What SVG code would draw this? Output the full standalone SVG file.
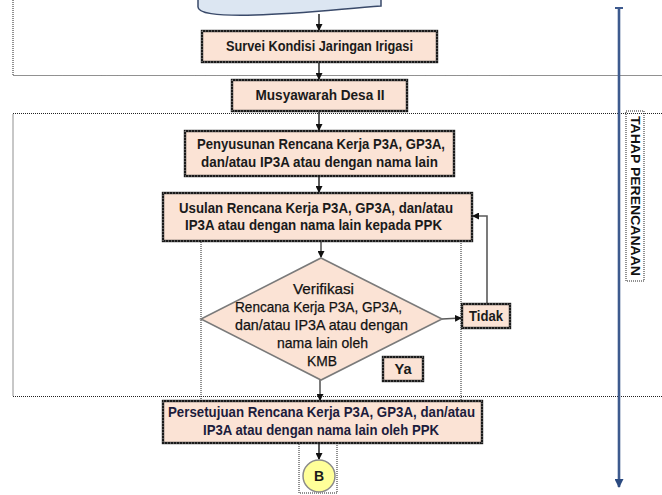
<svg xmlns="http://www.w3.org/2000/svg" width="662" height="495" viewBox="0 0 662 495">
<style>
.bg{fill:#ffffff}
.zone{fill:none;stroke:#222;stroke-width:1;stroke-dasharray:1 1}
.box{fill:#fbe3d5;stroke:#1a1a1a;stroke-width:2.4}
.speck{fill:none;stroke:#ffffff;stroke-width:0.7;stroke-dasharray:0.8 2.2}
.dia{fill:#fbe3d5;stroke:#7a7a7a;stroke-width:1.6}
.t{font-family:"Liberation Sans",Arial,sans-serif;font-size:14px;font-weight:bold;fill:#1a1a1a;text-anchor:middle}
.td{font-family:"Liberation Sans",Arial,sans-serif;font-size:15px;fill:#111;stroke:#111;stroke-width:0.25;text-anchor:middle}
.tp{font-family:"Liberation Sans",Arial,sans-serif;font-size:15px;font-weight:bold;fill:#1c1c3c;text-anchor:middle}
.c{fill:none;stroke:#333;stroke-width:1.6}
.cg{fill:none;stroke:#5a5a5a;stroke-width:1.6}
</style>
<defs>
<marker id="ah" markerWidth="7" markerHeight="7" refX="6" refY="3.5" orient="auto" markerUnits="userSpaceOnUse">
<path d="M0,0 L7,3.5 L0,7 Z" fill="#111"/>
</marker>
<marker id="ahb" markerWidth="9" markerHeight="9" refX="8" refY="4.5" orient="auto" markerUnits="userSpaceOnUse">
<path d="M0,0 L9,4.5 L0,9 Z" fill="#2b4a80"/>
</marker>
</defs>
<rect class="bg" x="0" y="0" width="662" height="495"/>

<g id="zones">
<path class="zone" d="M13,-2 V75.5 H664"/>
<path class="zone" d="M664,113.5 H13 V396.5 H664"/>
<rect class="zone" x="201" y="241" width="260" height="160"/>
<rect class="zone" x="299" y="443" width="38" height="50"/>
</g>

<g id="timeline">
<line x1="619" y1="8" x2="619" y2="487" stroke="#3d5a8e" stroke-width="2.6" marker-end="url(#ahb)"/>
<line x1="615" y1="8" x2="623" y2="8" stroke="#3d5a8e" stroke-width="2"/>
</g>

<g id="label-tahap">
<rect class="zone" x="626" y="111" width="18" height="170"/>
<text transform="translate(631,196) rotate(90)" font-family="Liberation Sans,Arial,sans-serif" font-size="12.5" font-weight="bold" fill="#111" text-anchor="middle" textLength="160" lengthAdjust="spacingAndGlyphs">TAHAP PERENCANAAN</text>
</g>

<g id="connectors">
<line class="c" x1="319" y1="14" x2="319" y2="30" marker-end="url(#ah)"/>
<line class="c" x1="319" y1="62" x2="319" y2="79" marker-end="url(#ah)"/>
<line class="c" x1="319" y1="111" x2="319" y2="130" marker-end="url(#ah)"/>
<line class="c" x1="319" y1="176" x2="319" y2="192" marker-end="url(#ah)"/>
<line class="cg" x1="321" y1="241" x2="321" y2="257" marker-end="url(#ah)"/>
<line class="cg" x1="442" y1="319" x2="461" y2="318" marker-end="url(#ah)"/>
<polyline class="cg" points="487,303 487,216 473,216" marker-end="url(#ah)"/>
<line class="cg" x1="320" y1="380" x2="320" y2="400" marker-end="url(#ah)"/>
<line class="c" x1="319" y1="443" x2="319" y2="459" marker-end="url(#ah)"/>
</g>

<g id="node-start">
<path d="M198,-2 V7 C198,13 214,16 255,15 C300,14 340,9 381,6 V-2 Z" fill="#dce6f2" stroke="#3a4a6a" stroke-width="1.5"/>
</g>

<g id="node-survei">
<rect class="box" x="202" y="31" width="235" height="31"/>
<rect class="speck" x="202" y="31" width="235" height="31"/>
<text class="t" x="319.5" y="51" textLength="187" lengthAdjust="spacingAndGlyphs">Survei Kondisi Jaringan Irigasi</text>
</g>

<g id="node-musyawarah">
<rect class="box" x="232" y="80" width="175" height="31"/>
<rect class="speck" x="232" y="80" width="175" height="31"/>
<text class="t" x="320" y="100" textLength="129" lengthAdjust="spacingAndGlyphs">Musyawarah Desa II</text>
</g>

<g id="node-penyusunan">
<rect class="box" x="185" y="131" width="269" height="45"/>
<rect class="speck" x="185" y="131" width="269" height="45"/>
<text class="t" x="321" y="149" textLength="248" lengthAdjust="spacingAndGlyphs">Penyusunan Rencana Kerja P3A, GP3A,</text>
<text class="t" x="319.5" y="167" textLength="237" lengthAdjust="spacingAndGlyphs">dan/atau IP3A atau dengan nama lain</text>
</g>

<g id="node-usulan">
<rect class="box" x="163" y="193" width="309" height="48"/>
<rect class="speck" x="163" y="193" width="309" height="48"/>
<text class="t" x="316" y="213" textLength="274" lengthAdjust="spacingAndGlyphs">Usulan Rencana Kerja P3A, GP3A, dan/atau</text>
<text class="t" x="313.5" y="230" textLength="257" lengthAdjust="spacingAndGlyphs">IP3A atau dengan nama lain kepada PPK</text>
</g>

<g id="node-verifikasi">
<polygon class="dia" points="321,258 442,319 321,380 201,319"/>
<text class="td" x="323.5" y="294" textLength="61" lengthAdjust="spacingAndGlyphs">Verifikasi</text>
<text class="td" x="318.5" y="312" textLength="167" lengthAdjust="spacingAndGlyphs">Rencana Kerja P3A, GP3A,</text>
<text class="td" x="321.5" y="330" textLength="173" lengthAdjust="spacingAndGlyphs">dan/atau IP3A atau dengan</text>
<text class="td" x="322.5" y="348" textLength="91" lengthAdjust="spacingAndGlyphs">nama lain oleh</text>
<text class="td" x="322" y="366" textLength="30" lengthAdjust="spacingAndGlyphs">KMB</text>
</g>

<g id="node-tidak">
<rect class="box" x="462" y="304" width="48" height="24"/>
<rect class="speck" x="462" y="304" width="48" height="24"/>
<text class="t" x="486" y="321" textLength="34" lengthAdjust="spacingAndGlyphs">Tidak</text>
</g>

<g id="node-ya">
<rect class="box" x="383" y="357" width="40" height="24"/>
<rect class="speck" x="383" y="357" width="40" height="24"/>
<text class="t" x="403" y="374" textLength="17" lengthAdjust="spacingAndGlyphs">Ya</text>
</g>

<g id="node-persetujuan">
<rect class="box" x="163" y="401" width="319" height="42"/>
<rect class="speck" x="163" y="401" width="319" height="42"/>
<text class="tp" x="321.5" y="417" textLength="307" lengthAdjust="spacingAndGlyphs">Persetujuan Rencana Kerja P3A, GP3A, dan/atau</text>
<text class="tp" x="321" y="435" textLength="236" lengthAdjust="spacingAndGlyphs">IP3A atau dengan nama lain oleh PPK</text>
</g>

<g id="node-b">
<circle cx="319" cy="476" r="16" fill="#ffff99" stroke="#8a8a8a" stroke-width="1.5"/>
<text class="t" x="319" y="481" font-size="13">B</text>
</g>
</svg>
